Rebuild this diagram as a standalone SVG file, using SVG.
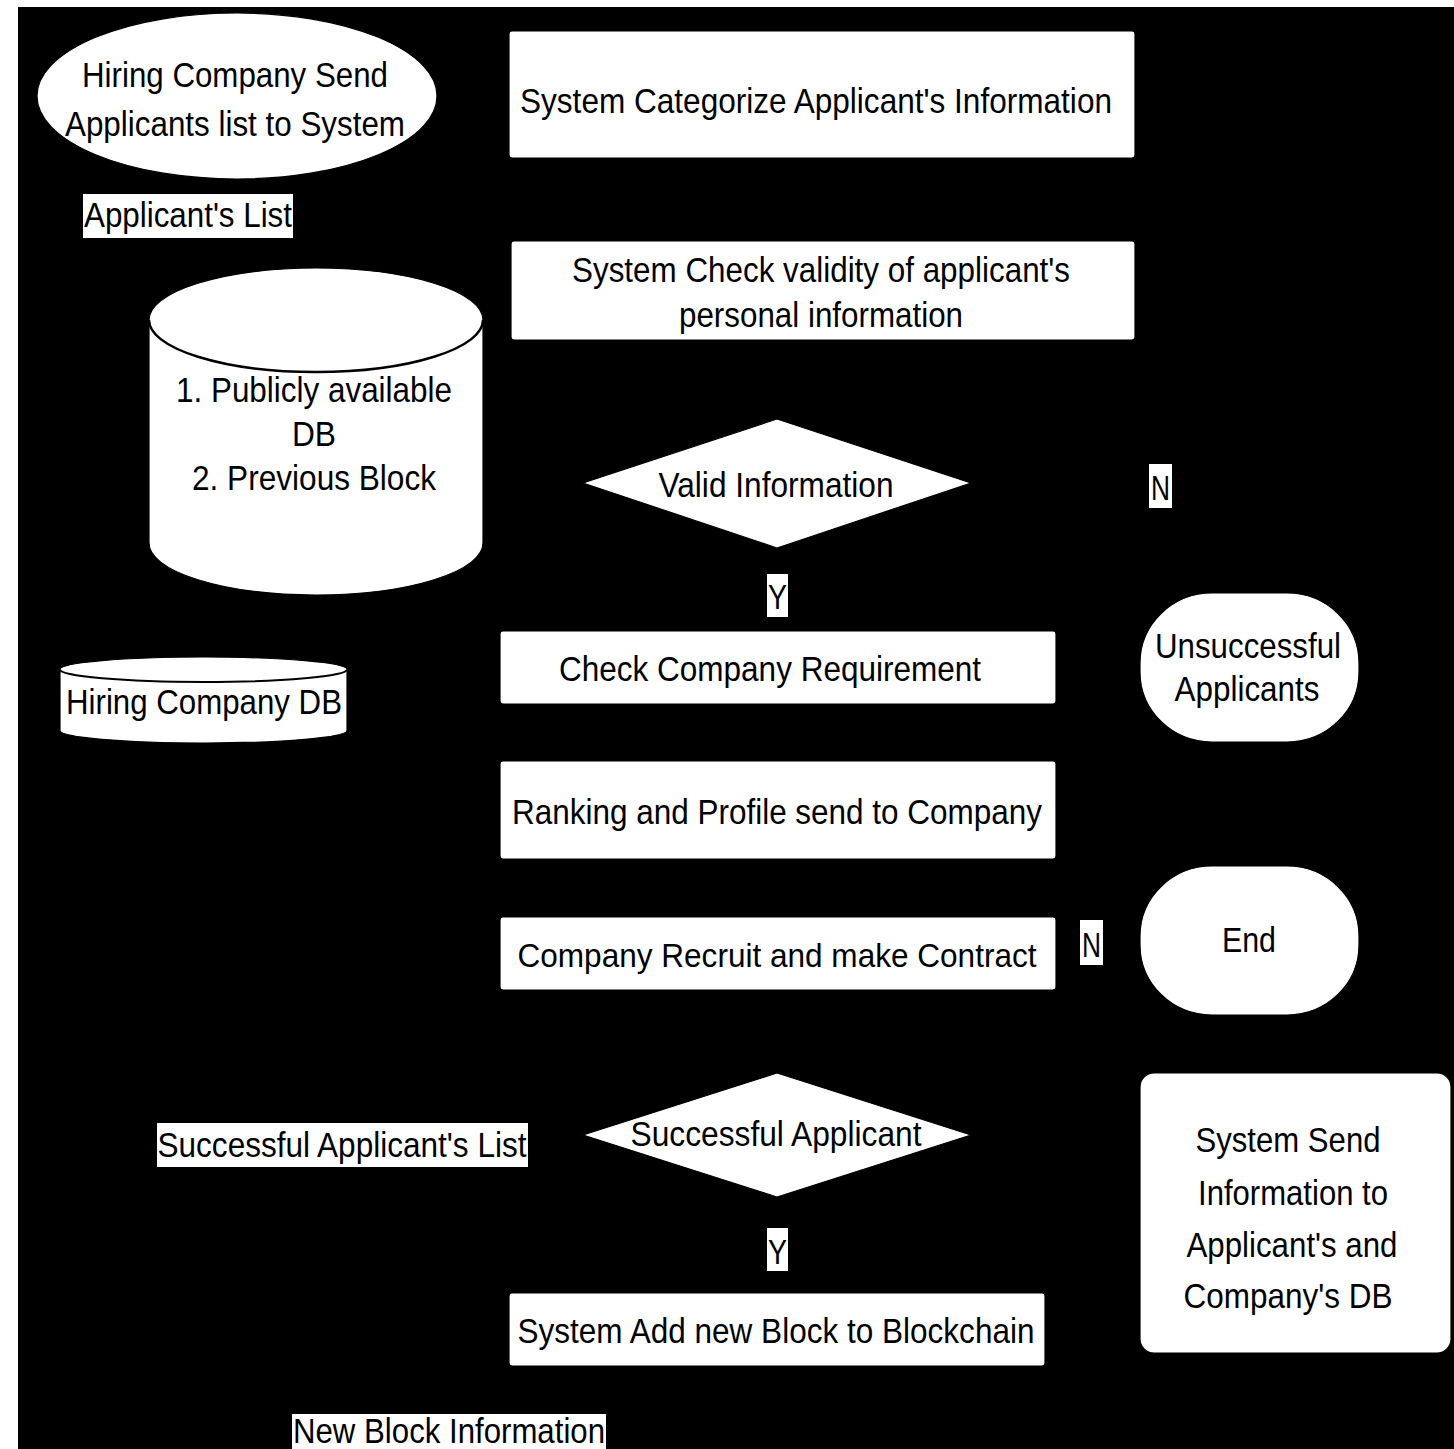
<svg xmlns="http://www.w3.org/2000/svg" width="1454" height="1449" viewBox="0 0 1454 1449">
<defs>
<style>
.sh{fill:#fff;stroke:#000;stroke-width:1.2}
.lb{fill:#fff;stroke:none}
.t{font-family:"Liberation Sans",Arial,sans-serif;font-size:35px;fill:#000;text-anchor:middle}
.cn{fill:none;stroke:#000;stroke-width:2}
</style>
<marker id="ah" viewBox="0 0 10 10" refX="10" refY="5" markerWidth="8" markerHeight="8" orient="auto"><path d="M0,0 L10,5 L0,10 Z" fill="#000"/></marker>
</defs>
<rect x="0" y="0" width="1454" height="1449" fill="#fff"/>
<rect x="18" y="7" width="1436" height="1442" fill="#000"/>

<g id="connectors">
<path class="cn" d="M437,96 L509,96" marker-end="url(#ah)"/>
<path class="cn" d="M822,158 L822,241" marker-end="url(#ah)"/>
<path class="cn" d="M777,340 L777,419" marker-end="url(#ah)"/>
<path class="cn" d="M777,548 L777,631" marker-end="url(#ah)"/>
<path class="cn" d="M971,483 L1160,483 L1160,560 L1249,560 L1249,593" marker-end="url(#ah)"/>
<path class="cn" d="M778,704 L778,761" marker-end="url(#ah)"/>
<path class="cn" d="M778,859 L778,917" marker-end="url(#ah)"/>
<path class="cn" d="M1056,940 L1140,940" marker-end="url(#ah)"/>
<path class="cn" d="M777,990 L777,1073" marker-end="url(#ah)"/>
<path class="cn" d="M777,1197 L777,1293" marker-end="url(#ah)"/>
<path class="cn" d="M971,1135 L1140,1135" marker-end="url(#ah)"/>
<path class="cn" d="M583,1135 L203,1135 L203,743" marker-end="url(#ah)"/>
<path class="cn" d="M483,290 L511,290" marker-end="url(#ah)"/>
<path class="cn" d="M777,1366 L777,1433 L30,1433 L30,450 L149,450" marker-end="url(#ah)"/>
<path class="cn" d="M188,180 L188,268" marker-end="url(#ah)"/>
</g>

<g id="n-start">
<ellipse class="sh" cx="237" cy="96" rx="200" ry="83"/>
<text class="t" x="235" y="87" textLength="306" lengthAdjust="spacingAndGlyphs">Hiring Company Send</text>
<text class="t" x="235" y="136" textLength="340" lengthAdjust="spacingAndGlyphs">Applicants list to System</text>
</g>

<g id="l-applicants-list">
<rect class="lb" x="83" y="194" width="210" height="44"/>
<text class="t" x="188" y="227" textLength="208" lengthAdjust="spacingAndGlyphs">Applicant's List</text>
</g>

<g id="n-categorize">
<rect class="sh" x="509" y="31" width="626" height="127" rx="3"/>
<text class="t" x="816" y="113" textLength="592" lengthAdjust="spacingAndGlyphs">System Categorize Applicant's Information</text>
</g>

<g id="n-check-validity">
<rect class="sh" x="511" y="241" width="624" height="99" rx="3"/>
<text class="t" x="821" y="282" textLength="498" lengthAdjust="spacingAndGlyphs">System Check validity of applicant's</text>
<text class="t" x="821" y="327" textLength="284" lengthAdjust="spacingAndGlyphs">personal information</text>
</g>

<g id="n-public-db">
<path class="sh" d="M149,320 L149,543 A167,52 0 0 0 483,543 L483,320 A167,52 0 0 0 149,320 Z"/>
<path fill="none" stroke="#000" stroke-width="2.5" d="M149,320 A167,52 0 0 0 483,320"/>
<text class="t" x="314" y="402" textLength="276" lengthAdjust="spacingAndGlyphs">1. Publicly available</text>
<text class="t" x="314" y="446" textLength="44" lengthAdjust="spacingAndGlyphs">DB</text>
<text class="t" x="314" y="490" textLength="244" lengthAdjust="spacingAndGlyphs">2. Previous Block</text>
</g>

<g id="n-valid">
<polygon class="sh" points="777,419 971,483 777,548 583,483"/>
<text class="t" x="776" y="497" textLength="235" lengthAdjust="spacingAndGlyphs">Valid Information</text>
</g>

<g id="l-n1">
<rect class="lb" x="1149" y="464" width="23" height="44"/>
<text class="t" x="1160.5" y="500" textLength="19" lengthAdjust="spacingAndGlyphs">N</text>
</g>

<g id="l-y1">
<rect class="lb" x="767" y="574" width="21" height="43"/>
<text class="t" x="777.5" y="609" textLength="19" lengthAdjust="spacingAndGlyphs">Y</text>
</g>

<g id="n-requirement">
<rect class="sh" x="500" y="631" width="556" height="73" rx="3"/>
<text class="t" x="770" y="681" textLength="422" lengthAdjust="spacingAndGlyphs">Check Company Requirement</text>
</g>

<g id="n-unsuccessful">
<rect class="sh" x="1140" y="593" width="219" height="149" rx="72" ry="70"/>
<text class="t" x="1248" y="658" textLength="186" lengthAdjust="spacingAndGlyphs">Unsuccessful</text>
<text class="t" x="1247" y="701" textLength="145" lengthAdjust="spacingAndGlyphs">Applicants</text>
</g>

<g id="n-company-db">
<path class="sh" d="M60,669.5 L60,730.5 A143.5,12.5 0 0 0 347,730.5 L347,669.5 A143.5,12.5 0 0 0 60,669.5 Z"/>
<path fill="none" stroke="#000" stroke-width="2" d="M60,669.5 A143.5,12.5 0 0 0 347,669.5"/>
<text class="t" x="204" y="714" textLength="276" lengthAdjust="spacingAndGlyphs">Hiring Company DB</text>
</g>

<g id="n-ranking">
<rect class="sh" x="500" y="761" width="556" height="98" rx="3"/>
<text class="t" x="777" y="824" textLength="530" lengthAdjust="spacingAndGlyphs">Ranking and Profile send to Company</text>
</g>

<g id="n-recruit">
<rect class="sh" x="500" y="917" width="556" height="73" rx="3"/>
<text class="t" x="777" y="967" font-size="33" textLength="519" lengthAdjust="spacingAndGlyphs" style="font-size:33px">Company Recruit and make Contract</text>
</g>

<g id="l-n2">
<rect class="lb" x="1080" y="920" width="23" height="45"/>
<text class="t" x="1091.5" y="957" textLength="19" lengthAdjust="spacingAndGlyphs">N</text>
</g>

<g id="n-end">
<rect class="sh" x="1140" y="866" width="219" height="149" rx="72" ry="70"/>
<text class="t" x="1249" y="952" textLength="54" lengthAdjust="spacingAndGlyphs">End</text>
</g>

<g id="n-successful">
<polygon class="sh" points="777,1073 971,1135 777,1197 583,1135"/>
<text class="t" x="776" y="1146" textLength="291" lengthAdjust="spacingAndGlyphs">Successful Applicant</text>
</g>

<g id="l-successful-list">
<rect class="lb" x="157" y="1123" width="371" height="44"/>
<text class="t" x="342" y="1157" textLength="369" lengthAdjust="spacingAndGlyphs">Successful Applicant's List</text>
</g>

<g id="l-y2">
<rect class="lb" x="767" y="1228" width="21" height="43"/>
<text class="t" x="777.5" y="1264" textLength="19" lengthAdjust="spacingAndGlyphs">Y</text>
</g>

<g id="n-add-block">
<rect class="sh" x="509" y="1293" width="536" height="73" rx="3"/>
<text class="t" x="776" y="1343" textLength="517" lengthAdjust="spacingAndGlyphs">System Add new Block to Blockchain</text>
</g>

<g id="n-send-info">
<rect class="sh" x="1140" y="1073" width="311" height="280" rx="14"/>
<text class="t" x="1288" y="1152" textLength="185" lengthAdjust="spacingAndGlyphs">System Send</text>
<text class="t" x="1293" y="1205" textLength="190" lengthAdjust="spacingAndGlyphs">Information to</text>
<text class="t" x="1292" y="1257" textLength="211" lengthAdjust="spacingAndGlyphs">Applicant's and</text>
<text class="t" x="1288" y="1308" textLength="209" lengthAdjust="spacingAndGlyphs">Company's DB</text>
</g>

<g id="l-new-block">
<rect class="lb" x="292" y="1414" width="314" height="40"/>
<text class="t" x="449" y="1443" textLength="312" lengthAdjust="spacingAndGlyphs">New Block Information</text>
</g>
</svg>
